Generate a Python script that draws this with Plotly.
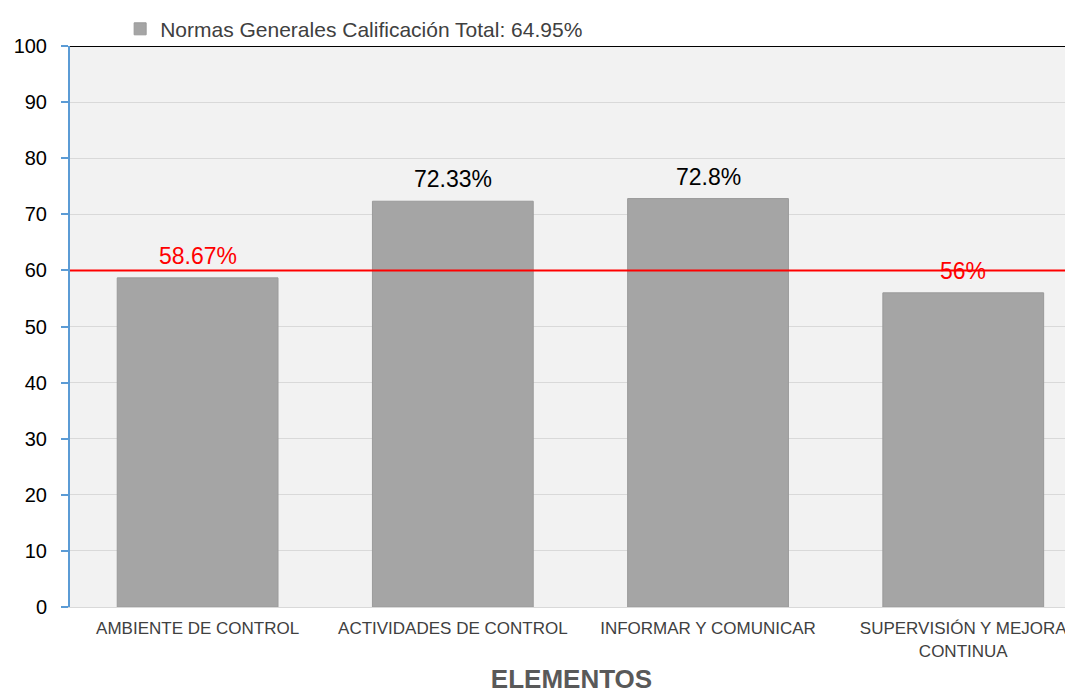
import plotly.graph_objects as go

categories = [
    "AMBIENTE DE CONTROL",
    "ACTIVIDADES DE CONTROL",
    "INFORMAR Y COMUNICAR",
    "SUPERVISIÓN Y MEJORA<br>CONTINUA",
]
scores = [58.67, 72.33, 72.8, 56]
labels = ["58.67%", "72.33%", "72.8%", "56%"]
label_colors = ["#ff0000", "#000000", "#000000", "#ff0000"]
series_name = "Normas Generales Calificación Total: 64.95%"
threshold = 60

font = "Liberation Sans, Arial, sans-serif"

fig = go.Figure(
    go.Bar(
        x=categories,
        y=scores,
        name=series_name,
        marker=dict(color="#a5a5a5", line=dict(color="#9a9a9a", width=1)),
        width=0.63,
        showlegend=True,
    )
)

# value labels above the bars
for cat, val, lab, col in zip(categories, scores, labels, label_colors):
    fig.add_annotation(x=cat, y=val, text=lab, showarrow=False,
                       yanchor="bottom", yshift=7,
                       font=dict(size=23, color=col, family=font))

fig.add_shape(type="line", xref="paper", x0=0, x1=1, y0=threshold, y1=threshold,
              line=dict(color="#ff0000", width=2))
fig.add_shape(type="line", xref="paper", x0=0, x1=1, y0=100, y1=100,
              line=dict(color="#000000", width=2))

# page body has an 8px margin, so the figure is shrunk to fit the window
fig.update_layout(
    width=1065,
    height=686,
    margin=dict(l=62, r=0, t=38, b=87),
    paper_bgcolor="white",
    plot_bgcolor="#f2f2f2",
    font=dict(family=font, color="#000000"),
    legend=dict(
        x=0.05, y=1.03, xanchor="left", yanchor="middle",
        orientation="h", bgcolor="rgba(0,0,0,0)",
        font=dict(size=21, color="#404040"),
        itemwidth=30,
    ),
    xaxis=dict(
        title=dict(text="<b>ELEMENTOS</b>", font=dict(size=26, color="#595959"), standoff=14),
        tickfont=dict(size=17, color="#404040"),
        ticklabelstandoff=6,
        range=[-0.5, 3.43],
        showline=True, linecolor="#d9d9d9",
        ticks="", showgrid=False,
    ),
    yaxis=dict(
        range=[0, 100],
        dtick=10,
        tickfont=dict(size=20, color="#000000"),
        showline=True, linecolor="#5b9bd5", linewidth=2,
        ticks="outside", tickcolor="#5b9bd5", ticklen=7, tickwidth=2,
        ticklabelstandoff=10,
        gridcolor="#d9d9d9",
        zeroline=False,
    ),
)

fig.write_html("out.html")
